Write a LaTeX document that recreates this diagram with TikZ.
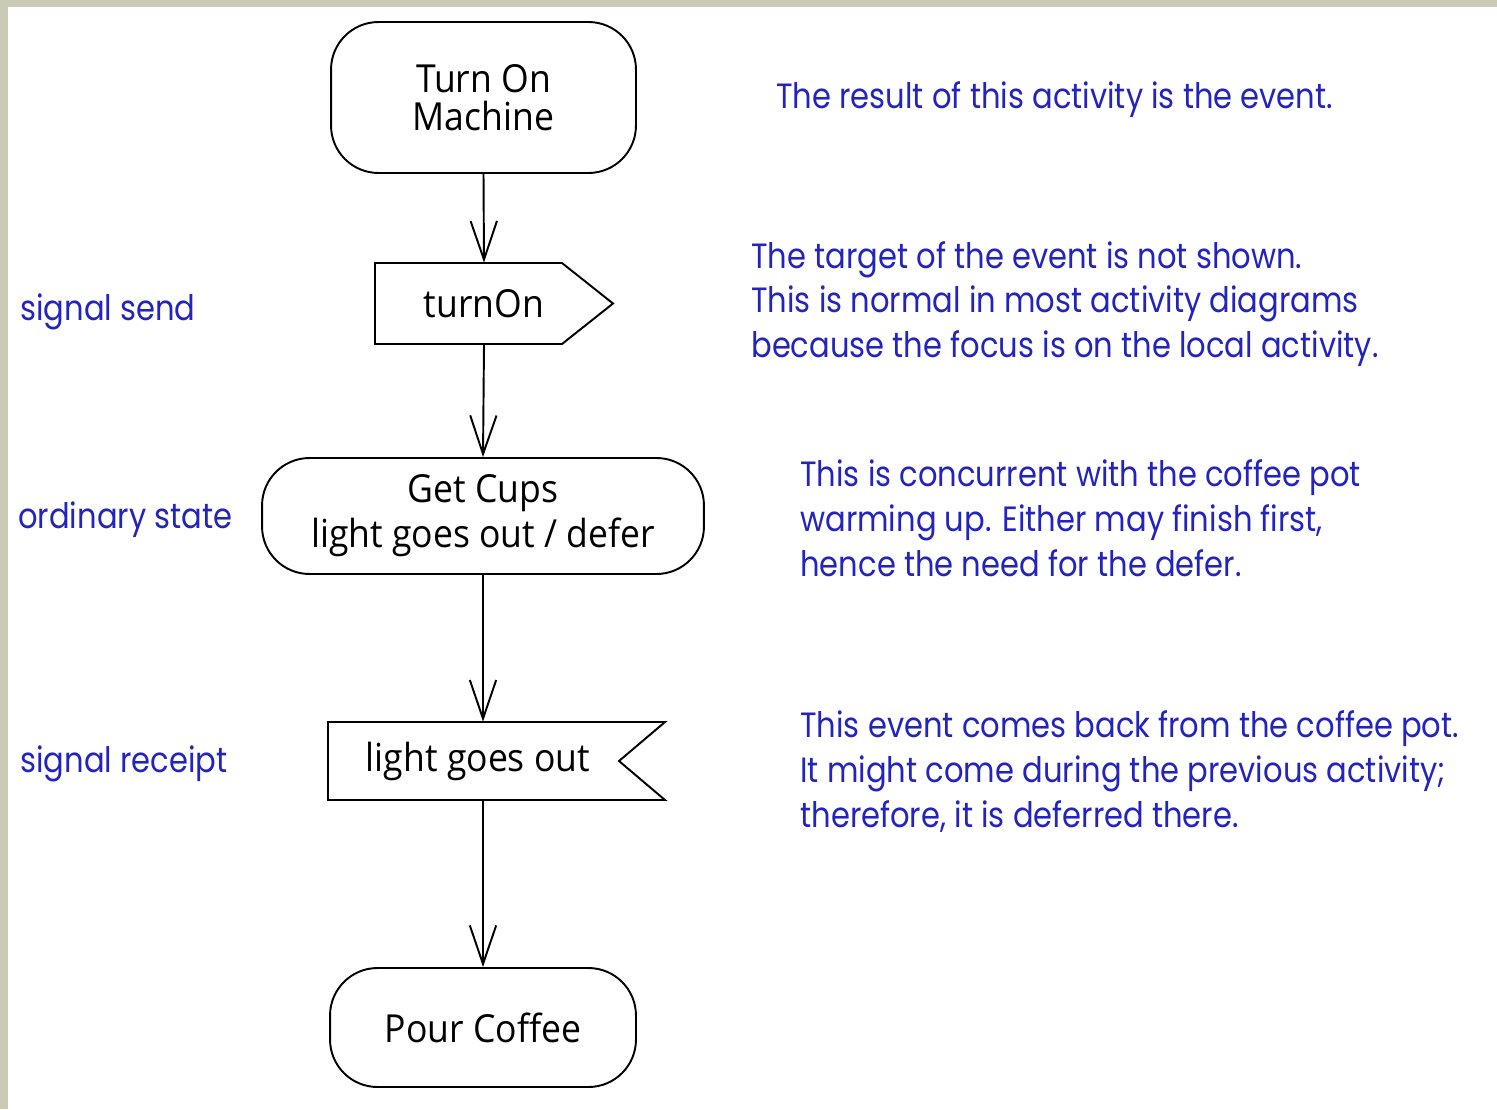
\documentclass[tikz,border=0pt]{standalone}
\usepackage{fontspec}
\setmainfont{Open Sans}
\newfontfamily\nodefont[FakeStretch=0.92]{Open Sans}
\newfontfamily\bluefont[FakeStretch=0.87]{Poppins}
\usetikzlibrary{arrows.meta}
\definecolor{bg}{RGB}{204,202,182}
\definecolor{note}{RGB}{35,35,190}
\begin{document}
\begin{tikzpicture}[x=0.02cm,y=-0.02cm,
  outline/.style={line width=1.1pt, black},
  act/.style={draw, outline, rounded corners=0.95cm, align=center, inner sep=0pt,
     font=\nodefont\fontsize{22}{22}\selectfont},
  sigtext/.style={inner sep=0pt, font=\nodefont\fontsize{22}{22}\selectfont},
  flow/.style={outline, -{Straight Barb[length=22pt, width=15pt, line width=1.1pt]}},
  note/.style={anchor=base west, inner sep=0pt, text=note,
     font=\bluefont\fontsize{20}{20}\selectfont}]
\fill[bg] (0,0) rectangle (1497,1109);
\fill[white] (8,7) rectangle (1497,1109);
\useasboundingbox (0,0) rectangle (1497,1109);

% activity nodes
\node[act, minimum width=6.1cm, minimum height=3.02cm] (t1) at (483.5,97.5)
  {Turn On\\Machine};
\node[sigtext, minimum height=1.62cm] (s1) at (484,303.5) {turnOn};
\draw[outline] (375,263) -- (562,263) -- (613,303.5) -- (562,344) -- (375,344) -- cycle;
\node[act, minimum width=8.84cm, minimum height=2.32cm, font=\nodefont\fontsize{22}{25.5}\selectfont]
  (gc) at (483,516) {Get Cups\\light goes out / defer};
\node[sigtext, minimum height=1.56cm] (r1) at (478,761) {light goes out};
\draw[outline] (328,722) -- (665,722) -- (619,761) -- (665,800) -- (328,800) -- cycle;
\node[act, minimum width=6.12cm, minimum height=2.38cm] (pc) at (483,1027.5) {Pour Coffee};

% flows
\draw[flow] (t1.south) -- (s1.north);
\draw[flow] (s1.south) -- (gc.north);
\draw[flow] (gc.south) -- (gc.south |- r1.north);
\draw[flow] (gc.south |- r1.south) -- (pc.north);

% left labels
\node[note] (l1) at (20,320) {signal send};
\node[note] (l2) at (18,528) {ordinary state};
\node[note] (l3) at (20,772) {signal receipt};

% right notes
\node[note] (n1) at (776,108) {The result of this activity is the event.};
\node[note] (n2a) at (751,268) {The target of the event is not shown.};
\node[note] (n2b) at (751,312) {This is normal in most activity diagrams};
\node[note] (n2c) at (751,357) {because the focus is on the local activity.};
\node[note] (n3a) at (800,486) {This is concurrent with the coffee pot};
\node[note] (n3b) at (800,531) {warming up. Either may finish first,};
\node[note] (n3c) at (800,576) {hence the need for the defer.};
\node[note] (n4a) at (800,737) {This event comes back from the coffee pot.};
\node[note] (n4b) at (800,782) {It might come during the previous activity;};
\node[note] (n4c) at (800,827) {therefore, it is deferred there.};
\end{tikzpicture}
\end{document}
